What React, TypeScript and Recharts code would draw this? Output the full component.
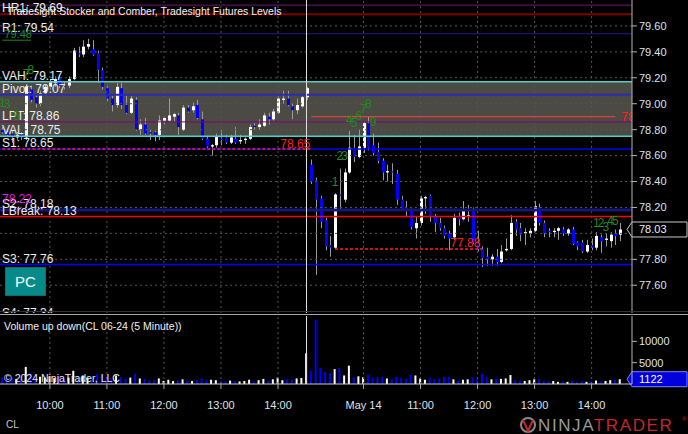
import React from "react";
import {
  ComposedChart,
  Bar,
  XAxis,
  YAxis,
  ReferenceLine,
  ReferenceArea,
  ReferenceDot,
  Cell,
} from "recharts";

// ---------- categories ----------
const day1Times = [
  "09:10","09:15","09:20","09:25","09:30","09:35","09:40","09:45","09:50","09:55",
  "10:00","10:05","10:10","10:15","10:20","10:25","10:30","10:35","10:40","10:45","10:50","10:55",
  "11:00","11:05","11:10","11:15","11:20","11:25","11:30","11:35","11:40","11:45","11:50","11:55",
  "12:00","12:05","12:10","12:15","12:20","12:25","12:30","12:35","12:40","12:45","12:50","12:55",
  "13:00","13:05","13:10","13:15","13:20","13:25","13:30","13:35","13:40","13:45","13:50","13:55",
  "14:00","14:05","14:10","14:15","14:20","14:25","14:30",
];
const day2Times = [
  "09:05","09:10","09:15","09:20","09:25","09:30","09:35","09:40","09:45","09:50","09:55",
  "10:00","10:05","10:10","10:15","10:20","10:25","10:30","10:35","10:40","10:45","10:50","10:55",
  "11:00","11:05","11:10","11:15","11:20","11:25","11:30","11:35","11:40","11:45","11:50","11:55",
  "12:00","12:05","12:10","12:15","12:20","12:25","12:30","12:35","12:40","12:45","12:50","12:55",
  "13:00","13:05","13:10","13:15","13:20","13:25","13:30","13:35","13:40","13:45","13:50","13:55",
  "14:00","14:05","14:10","14:15","14:20","14:25","14:30",
];

// ---------- day 1 (May 13) ----------
const open1 = [
  78.80, 78.78, 78.77, 78.74, 78.76, 78.74, 79.11, 79.05, 79.00, 79.08,
  79.13, 79.16, 79.20, 79.14, 79.14, 79.19, 79.39, 79.38, 79.44, 79.42,
  79.39, 79.26, 79.12, 79.04, 78.99, 79.12, 78.99, 78.93, 79.03, 78.80,
  78.84, 78.78, 78.78, 78.76, 78.87, 78.87, 78.90, 78.91, 78.80, 78.97,
  78.95, 78.99, 78.88, 78.73, 78.67, 78.68, 78.73, 78.74, 78.70, 78.73,
  78.71, 78.72, 78.73, 78.83, 78.82, 78.83, 78.90, 78.88, 78.93, 79.03,
  79.04, 78.98, 78.95, 78.98, 79.05,
];
const high1 = [
  78.82, 78.80, 78.79, 78.78, 78.78, 79.15, 79.14, 79.07, 79.10, 79.15,
  79.19, 79.21, 79.22, 79.17, 79.21, 79.43, 79.44, 79.49, 79.50, 79.49,
  79.41, 79.28, 79.14, 79.06, 79.16, 79.16, 79.06, 79.06, 79.05, 78.88,
  78.89, 78.80, 78.79, 78.91, 78.90, 79.04, 78.93, 78.93, 78.99, 78.99,
  79.01, 79.03, 78.94, 78.75, 78.69, 78.77, 78.80, 78.76, 78.76, 78.82,
  78.76, 78.74, 78.84, 78.85, 78.88, 78.93, 78.93, 78.96, 79.06, 79.10,
  79.10, 79.00, 79.04, 79.06, 79.13,
];
const low1 = [
  78.77, 78.75, 78.70, 78.72, 78.72, 78.72, 79.01, 78.97, 78.98, 79.06,
  79.11, 79.13, 79.12, 79.11, 79.12, 79.18, 79.36, 79.36, 79.42, 79.37,
  79.16, 79.11, 79.02, 78.94, 78.97, 78.96, 78.92, 78.92, 78.79, 78.76,
  78.76, 78.72, 78.71, 78.72, 78.84, 78.86, 78.86, 78.76, 78.79, 78.93,
  78.93, 78.88, 78.72, 78.66, 78.60, 78.66, 78.68, 78.69, 78.69, 78.69,
  78.69, 78.69, 78.72, 78.80, 78.80, 78.82, 78.84, 78.87, 78.92, 79.00,
  78.98, 78.88, 78.92, 78.97, 79.03,
];
const close1 = [
  78.78, 78.76, 78.74, 78.76, 78.74, 79.13, 79.03, 79.00, 79.08, 79.13,
  79.17, 79.19, 79.14, 79.13, 79.19, 79.41, 79.38, 79.44, 79.46, 79.38,
  79.26, 79.13, 79.04, 78.99, 79.13, 78.99, 78.93, 79.04, 78.80, 78.84,
  78.77, 78.77, 78.76, 78.87, 78.89, 78.91, 78.92, 78.82, 78.97, 78.94,
  78.98, 78.89, 78.73, 78.67, 78.68, 78.75, 78.72, 78.70, 78.74, 78.70,
  78.72, 78.73, 78.82, 78.82, 78.84, 78.91, 78.88, 78.94, 79.04, 79.04,
  78.99, 78.95, 78.99, 79.05, 79.12,
];
const volume1 = [
  1500, 1300, 1800, 1200, 1600, 4000, 2600, 1900, 1700, 1500,
  1800, 1400, 1900, 1200, 1500, 3100, 1800, 2000, 1500, 1700,
  2300, 2100, 1700, 1400, 2000, 1600, 1300, 1500, 2400, 1300,
  1200, 800, 900, 1300, 700, 1000, 700, 900, 1100, 800,
  700, 900, 1300, 900, 1000, 900, 700, 600, 800, 700,
  600, 700, 1000, 600, 900, 1200, 800, 1100, 1500, 900,
  1200, 1000, 1300, 1400, 7200,
];

// ---------- day 2 (May 14) ----------
const open2 = [
  78.53, 78.41, 78.27, 78.10, 77.91, 77.89, 78.30, 78.26, 78.47, 78.66,
  78.59, 78.66, 78.85, 78.68, 78.63, 78.56, 78.47, 78.48, 78.46, 78.26,
  78.20, 78.17, 78.04, 78.08, 78.27, 78.29, 78.13, 78.08, 78.04, 78.00,
  77.97, 78.13, 78.11, 78.13, 78.18, 77.93, 77.88, 77.82, 77.80, 77.82,
  77.78, 77.87, 77.88, 78.09, 78.04, 78.00, 78.00, 78.02, 78.20, 78.08,
  78.02, 78.01, 78.02, 78.03, 78.00, 78.03, 77.93, 77.93, 77.86, 77.91,
  77.89, 77.97, 77.95, 77.94, 78.00, 77.99,
];
const high2 = [
  78.57, 78.43, 78.29, 78.12, 77.98, 78.31, 78.50, 78.50, 78.79, 78.76,
  78.80, 78.86, 78.90, 78.77, 78.70, 78.58, 78.53, 78.54, 78.49, 78.29,
  78.25, 78.19, 78.13, 78.29, 78.29, 78.30, 78.15, 78.12, 78.06, 78.02,
  78.15, 78.16, 78.25, 78.22, 78.20, 78.02, 77.90, 77.89, 77.84, 77.88,
  77.91, 77.96, 78.14, 78.11, 78.08, 78.04, 78.04, 78.25, 78.23, 78.10,
  78.04, 78.04, 78.05, 78.05, 78.04, 78.05, 77.94, 77.95, 77.95, 77.96,
  78.01, 77.99, 78.00, 78.01, 78.03, 78.08,
];
const low2 = [
  78.38, 77.68, 78.04, 77.87, 77.82, 77.88, 78.18, 78.24, 78.46, 78.55,
  78.58, 78.62, 78.64, 78.60, 78.54, 78.41, 78.40, 78.38, 78.22, 78.18,
  78.13, 78.03, 77.96, 78.06, 78.15, 78.09, 78.01, 78.02, 77.96, 77.87,
  77.95, 78.06, 78.10, 78.09, 77.92, 77.86, 77.74, 77.75, 77.75, 77.75,
  77.77, 77.86, 77.87, 77.98, 77.94, 77.91, 77.97, 78.01, 78.06, 77.97,
  77.97, 77.97, 77.95, 77.98, 77.98, 77.91, 77.87, 77.85, 77.85, 77.87,
  77.87, 77.85, 77.90, 77.89, 77.91, 77.94,
];
const close2 = [
  78.40, 78.26, 78.09, 77.90, 77.89, 78.30, 78.29, 78.47, 78.66, 78.59,
  78.67, 78.85, 78.66, 78.62, 78.56, 78.47, 78.48, 78.47, 78.26, 78.19,
  78.18, 78.05, 78.08, 78.27, 78.28, 78.13, 78.08, 78.04, 77.98, 77.96,
  78.12, 78.11, 78.18, 78.14, 77.93, 77.88, 77.81, 77.80, 77.82, 77.78,
  77.86, 77.88, 78.08, 78.03, 77.99, 78.01, 78.02, 78.21, 78.08, 78.00,
  78.01, 78.02, 78.04, 78.00, 78.03, 77.92, 77.90, 77.86, 77.91, 77.89,
  77.98, 77.94, 77.96, 77.99, 77.98, 78.03,
];
const volume2 = [
  3100, 15100, 3700, 2900, 2500, 3500, 3800, 2000, 4300, 1600,
  1800, 1600, 2200, 1500, 1600, 1700, 1300, 1200, 1700, 1400,
  1200, 2200, 2000, 1300, 1000, 1500, 1100, 1200, 1700, 1700,
  1100, 900, 1000, 1100, 1600, 1200, 2500, 1700, 1100, 1300,
  1200, 1300, 2100, 900, 800, 700, 900, 1100, 1200, 700,
  600, 700, 500, 600, 500, 700, 500, 700, 500, 600,
  800, 600, 700, 900, 1000, 1122,
];

// ---------- axes / ticks ----------
const priceDomain = [77.386, 79.8];
const priceGrid = [77.6, 77.8, 78.0, 78.2, 78.4, 78.6, 78.8, 79.0, 79.2, 79.4, 79.6];
// 78.00 is hidden behind the last-price tag in the reference
const priceTicks = [77.6, 77.8, 78.2, 78.4, 78.6, 78.8, 79.0, 79.2, 79.4, 79.6];
const volumeDomain = [0, 15950];
const volumeTicks = [5000, 10000];
const hourTickKeys = ["1 10:00", "1 11:00", "1 12:00", "1 13:00", "1 14:00", "2 10:00", "2 11:00", "2 12:00", "2 13:00", "2 14:00"];
const hourTickLabels = ["10:00", "11:00", "12:00", "13:00", "14:00", "May 14", "11:00", "12:00", "13:00", "14:00"];
const sessionBreakKey = "1 14:30";
const lastPrice = 78.03;
const lastVolume = 1122;

// ---------- levels ----------
const levelNames = ["", "HR1", "R1", "VAH", "Pivot", "LPT", "VAL", "S1", "S2", "LBreak", "S3", "S4"];
const levelValues = [79.76, 79.69, 79.54, 79.17, 79.07, 78.86, 78.75, 78.65, 78.18, 78.13, 77.76, 77.34];
const levelColors = ["#3e0e42", "#7d0000", "#1e1e96", "#48d1cc", "#2b2bb0", "#800080", "#48d1cc", "#0000ff", "#16167a", "#ff0000", "#0000ff", "#0000ff"];
const levelWidths = [2, 2, 1, 1.5, 2, 1, 1.5, 1.5, 3, 1.5, 1.5, 1.5];
const valueArea = [78.75, 79.17];

const stockerLabels = [
  { k: "1 09:10", p: 79.01, t: "1" },
  { k: "1 09:15", p: 79.0, t: "3" },
  { k: "1 09:25", p: 78.91, t: "5" },
  { k: "1 09:35", p: 79.23, t: "7" },
  { k: "1 09:40", p: 79.26, t: "8" },
  { k: "2 09:30", p: 78.4, t: "1" },
  { k: "2 09:35", p: 78.6, t: "2" },
  { k: "2 09:40", p: 78.6, t: "3" },
  { k: "2 09:45", p: 78.88, t: "4" },
  { k: "2 09:50", p: 78.85, t: "5" },
  { k: "2 09:55", p: 78.91, t: "6" },
  { k: "2 10:00", p: 78.96, t: "7" },
  { k: "2 10:05", p: 79.0, t: "8" },
  { k: "2 10:10", p: 78.86, t: "9" },
  { k: "2 14:05", p: 78.08, t: "1" },
  { k: "2 14:10", p: 78.08, t: "2" },
  { k: "2 14:15", p: 78.05, t: "3" },
  { k: "2 14:20", p: 78.1, t: "4" },
  { k: "2 14:25", p: 78.1, t: "5" },
];

type Row = { key: string; o: number | null; h: number | null; l: number | null; c: number | null; v: number | null };
const rows: Row[] = [
  ...day1Times.map((t, i) => ({ key: "1 " + t, o: open1[i], h: high1[i], l: low1[i], c: close1[i], v: volume1[i] })),
  ...day2Times.map((t, i) => ({ key: "2 " + t, o: open2[i], h: high2[i], l: low2[i], c: close2[i], v: volume2[i] })),
  { key: "pad 1", o: null, h: null, l: null, c: null, v: null },
  { key: "pad 2", o: null, h: null, l: null, c: null, v: null },
];

const UP = "#ffffff";
const DOWN = "#0000ff";
const WICK = "#9a9a9a";
const GRID = "#555555";
const AXIS_TEXT = "#dde3ee";
const LABEL = "#ececec";
const RED = "#ff2020";
const GREEN = "#1f8a1f";
const PLOT_RIGHT = 632;

const Candle = (props: any) => {
  const { x, y, width, height, payload } = props;
  if (!payload || payload.h == null) return null;
  const { o, h, l, c } = payload;
  const top = height < 0 ? y + height : y;
  const hh = Math.abs(height);
  const ratio = hh / (h - l);
  const cx = Math.round(x + width / 2);
  const yO = top + (h - o) * ratio;
  const yC = top + (h - c) * ratio;
  const bTop = Math.min(yO, yC);
  const bH = Math.max(1, Math.abs(yO - yC));
  const up = c >= o;
  return (
    <g>
      <line x1={cx + 0.5} x2={cx + 0.5} y1={top} y2={top + hh} stroke={WICK} strokeWidth={1} />
      <rect x={cx - 1} y={bTop} width={3} height={bH} fill={up ? UP : DOWN} />
    </g>
  );
};

const Tag = (props: any) => {
  const { viewBox, text, fill, stroke, color } = props;
  if (!viewBox) return null;
  const right = viewBox.x + viewBox.width;
  const y = viewBox.y;
  return (
    <g>
      <polygon
        points={`${right - 5},${y} ${right},${y - 7.5} ${right + 55},${y - 7.5} ${right + 55},${y + 7.5} ${right},${y + 7.5}`}
        fill={fill}
        stroke={stroke}
        strokeWidth={1}
      />
      <text x={right + 7} y={y + 4} fill={color} fontSize={11}>
        {text}
      </text>
    </g>
  );
};

// label drawn after the segment's end and cut at the plot's right edge
const ClippedEndLabel = (props: any) => {
  const { viewBox, text, fill, fontSize, gap } = props;
  if (!viewBox) return null;
  const x = viewBox.x + viewBox.width + gap;
  const y = viewBox.y;
  return (
    <g>
      <defs>
        <clipPath id="endLabelClip">
          <rect x={0} y={y - 12} width={PLOT_RIGHT} height={24} />
        </clipPath>
      </defs>
      <text x={x} y={y + 4} fill={fill} fontSize={fontSize} clipPath="url(#endLabelClip)">
        {text}
      </text>
    </g>
  );
};

const tickLabel = (v: string) => {
  const idx = hourTickKeys.indexOf(v);
  return idx >= 0 ? hourTickLabels[idx] : "";
};

export default function App() {
  const font = "'Liberation Sans', Arial, sans-serif";
  return (
    <div style={{ position: "absolute", left: 0, top: 0, width: 688, height: 434, background: "#000", overflow: "hidden", fontFamily: font }}>
      <div style={{ position: "absolute", left: 0, top: 0, width: 688, height: 313, overflow: "hidden" }}>
        <ComposedChart width={688} height={313} data={rows} margin={{ top: 0, right: 0, bottom: 0, left: 0 }}>
          <XAxis dataKey="key" hide />
          <YAxis
            orientation="right"
            width={56}
            type="number"
            domain={priceDomain}
            allowDataOverflow
            ticks={priceTicks}
            interval={0}
            tickFormatter={(v: number) => v.toFixed(2)}
            tick={{ fill: AXIS_TEXT, fontSize: 11 }}
            tickSize={5}
            tickLine={{ stroke: "#b0b0b0" }}
            axisLine={{ stroke: "#b4b4b4" }}
          />
          <ReferenceArea y1={valueArea[0]} y2={valueArea[1]} fill="#4b4a43" fillOpacity={1} stroke="none" />
          {priceGrid.map((t) => (
            <ReferenceLine key={"hg" + t} y={t} stroke={GRID} strokeDasharray="2 3" />
          ))}
          {hourTickKeys.map((k) => (
            <ReferenceLine key={"vg" + k} x={k} stroke={GRID} strokeDasharray="2 3" />
          ))}
          {levelValues.map((p, i) => (
            <ReferenceLine
              key={"lv" + i}
              y={p}
              stroke={levelColors[i]}
              strokeWidth={levelWidths[i]}
              ifOverflow="visible"
              label={
                levelNames[i]
                  ? { value: `${levelNames[i]}: ${p.toFixed(2)}`, position: "insideBottomLeft", offset: 2, fill: LABEL, fontSize: 12 }
                  : undefined
              }
            />
          ))}
          <ReferenceLine
            segment={[{ x: "1 09:10", y: 79.49 }, { x: "1 09:40", y: 79.49 }]}
            stroke={GREEN}
            label={{ value: "79.48", position: "insideBottomLeft", offset: 2, fill: GREEN, fontSize: 11 }}
          />
          <ReferenceLine
            y={78.22}
            stroke="none"
            label={{ value: "78.22", position: "insideBottomLeft", offset: 2, fill: "#e020e0", fontSize: 12 }}
          />
          <ReferenceLine
            segment={[{ x: "2 09:05", y: 78.9 }, { x: "2 14:25", y: 78.9 }]}
            stroke="#ff4040"
            label={<ClippedEndLabel text="78.90" fill={RED} fontSize={12} gap={6} />}
          />
          <ReferenceLine
            segment={[{ x: "1 09:10", y: 78.65 }, { x: "2 09:05", y: 78.65 }]}
            stroke={RED}
            strokeWidth={1.5}
            strokeDasharray="3 2"
            label={{ value: "78.65", position: "insideBottomRight", offset: 1, fill: RED, fontSize: 12 }}
          />
          <ReferenceLine
            segment={[{ x: "2 09:30", y: 77.88 }, { x: "2 12:05", y: 77.88 }]}
            stroke={RED}
            strokeWidth={1.5}
            strokeDasharray="3 2"
            label={{ value: "77.88", position: "insideBottomRight", offset: 2, fill: RED, fontSize: 12 }}
          />
          <ReferenceLine x={sessionBreakKey} stroke="#e0e0e0" strokeWidth={1} />
          <Bar
            dataKey={(d: Row) => (d.h == null ? null : [d.l, d.h])}
            shape={(p: any) => <Candle {...p} />}
            isAnimationActive={false}
          />
          {stockerLabels.map((s, i) => (
            <ReferenceDot
              key={"st" + i}
              x={s.k}
              y={s.p}
              r={0}
              fill="none"
              stroke="none"
              label={{ value: s.t, position: "center", fill: GREEN, fontSize: 12 }}
            />
          ))}
          <ReferenceLine
            y={lastPrice}
            stroke="none"
            label={<Tag text={lastPrice.toFixed(2)} fill="#000" stroke="#c8c8c8" color="#eeeeee" />}
          />
        </ComposedChart>
      </div>

      <div style={{ position: "absolute", left: 0, top: 316, width: 688, height: 98 }}>
        <ComposedChart width={688} height={98} data={rows} margin={{ top: 0, right: 0, bottom: 0, left: 0 }}>
          <XAxis
            dataKey="key"
            ticks={hourTickKeys}
            interval={0}
            tickFormatter={tickLabel}
            height={30}
            tick={{ fill: AXIS_TEXT, fontSize: 11 }}
            tickSize={5}
            tickMargin={12}
            tickLine={{ stroke: "#aaaaaa" }}
            axisLine={{ stroke: "#c8c8c8" }}
          />
          <YAxis
            orientation="right"
            width={56}
            type="number"
            domain={volumeDomain}
            allowDataOverflow
            ticks={volumeTicks}
            interval={0}
            tick={{ fill: AXIS_TEXT, fontSize: 11 }}
            tickSize={5}
            tickLine={{ stroke: "#b0b0b0" }}
            axisLine={{ stroke: "#b4b4b4" }}
          />
          {hourTickKeys.map((k) => (
            <ReferenceLine key={"vv" + k} x={k} stroke={GRID} strokeDasharray="2 3" />
          ))}
          <ReferenceLine x={sessionBreakKey} stroke="#e0e0e0" strokeWidth={1} />
          <Bar dataKey="v" barSize={2} isAnimationActive={false}>
            {rows.map((r, i) => (
              <Cell key={"c" + i} fill={r.c != null && r.o != null && r.c >= r.o ? UP : DOWN} />
            ))}
          </Bar>
          <ReferenceLine
            y={lastVolume}
            stroke="none"
            label={<Tag text={String(lastVolume)} fill="#0000dd" stroke="#8080ff" color="#ffffff" />}
          />
        </ComposedChart>
      </div>

      <svg width={688} height={434} style={{ position: "absolute", left: 0, top: 0, pointerEvents: "none" }}>
        <line x1={0} x2={688} y1={311.5} y2={311.5} stroke="#333333" />
        <line x1={0} x2={688} y1={314.5} y2={314.5} stroke="#a8a8a8" />
        <text x={7} y={14.5} fill="#f0f0f0" fontSize={10.5}>
          Tradesight Stocker and Comber, Tradesight Futures Levels
        </text>
        <rect x={5.5} y={267.5} width={40} height={28} fill="#078a8a" stroke="#0b6f6f" />
        <text x={25.5} y={287} fill="#ffffff" fontSize={15} textAnchor="middle">
          PC
        </text>
        <text x={4} y={329.5} fill="#f0f0f0" fontSize={10.5}>
          Volume up down(CL 06-24 (5 Minute))
        </text>
        <text x={4} y={382} fill="#e8e8e8" fontSize={10.5}>
          © 2024 NinjaTrader, LLC
        </text>
        <text x={6} y={428} fill="#c8c8c8" fontSize={10}>
          CL
        </text>
        <circle cx={528} cy={425} r={7} fill="none" stroke="#8a8a8a" strokeWidth={2} />
        <path d="M523 420 L528 431 L533 420" fill="none" stroke="#c0272d" strokeWidth={2} />
        <text x={538} y={431} fontSize={17} letterSpacing={1.6}>
          <tspan fill="#9a9a9a">NINJA</tspan>
          <tspan fill="#c0272d">TRADER</tspan>
        </text>
        <text x={682} y={421} fill="#c0272d" fontSize={6}>
          ®
        </text>
      </svg>
    </div>
  );
}
